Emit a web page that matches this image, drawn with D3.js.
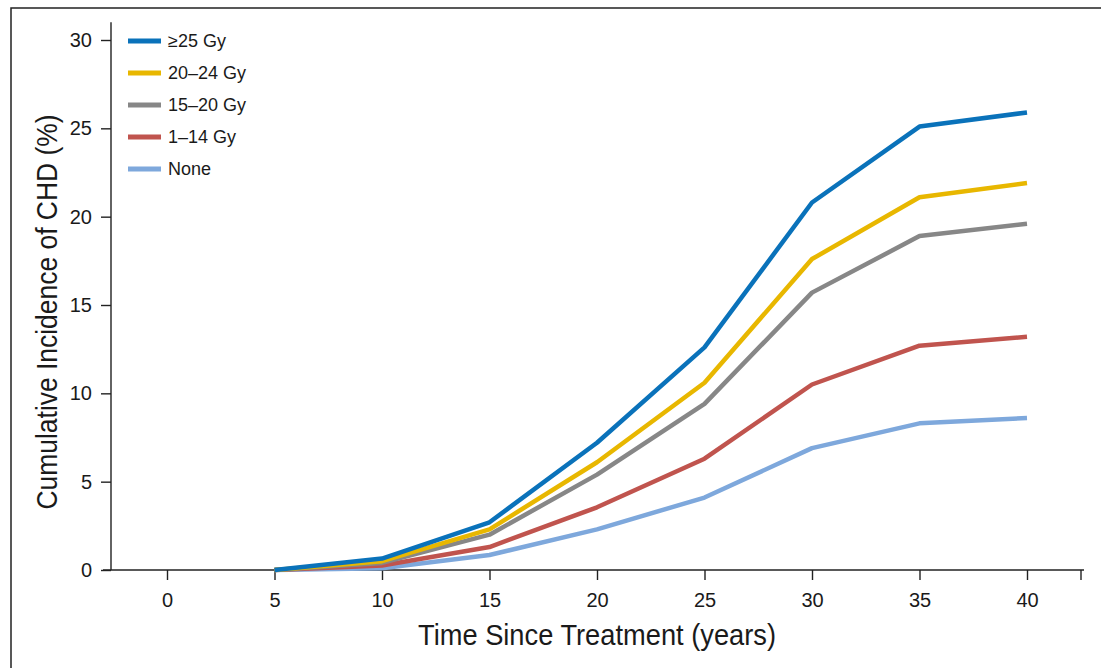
<!DOCTYPE html>
<html lang="en">
<head>
<meta charset="UTF-8">
<title>Cumulative Incidence of CHD</title>
<script src="https://cdn.jsdelivr.net/npm/d3@7"></script>
<style>
  body { margin: 0; background: #fff; }
  svg text { font-family: "Liberation Sans", Arial, sans-serif; fill: #1a1a1a; }
  .legend text { font-size: 18px; }
</style>
</head>
<body>
<div id="chart"></div>
<script>
// data
const years = [5, 10, 15, 20, 25, 30, 35, 40];
const seriesNames = ["\u226525 Gy", "20\u201324 Gy", "15\u201320 Gy", "1\u201314 Gy", "None"];
const seriesColors = ["#0a72ba", "#e8b700", "#878787", "#c0544e", "#7ea8dc"];
const dose25 = [0, 0.65, 2.7, 7.2, 12.6, 20.8, 25.1, 25.9];
const dose20 = [0, 0.5, 2.3, 6.1, 10.6, 17.6, 21.1, 21.9];
const dose15 = [0, 0.4, 2.0, 5.4, 9.4, 15.7, 18.9, 19.6];
const dose1 = [0, 0.25, 1.3, 3.55, 6.3, 10.5, 12.7, 13.2];
const doseNone = [0, 0.1, 0.85, 2.3, 4.1, 6.9, 8.3, 8.6];
const seriesValues = [dose25, dose20, dose15, dose1, doseNone];
const xTicks = [0, 5, 10, 15, 20, 25, 30, 35, 40];
const yTicks = [0, 5, 10, 15, 20, 25, 30];

const W = 1101, H = 668;
const svg = d3.select("#chart").append("svg")
  .attr("width", W).attr("height", H);

// outer frame (runs off the picture right and bottom)
svg.append("rect")
  .attr("x", 11).attr("y", 8)
  .attr("width", 1200).attr("height", 800)
  .attr("fill", "none").attr("stroke", "#222").attr("stroke-width", 1.5);

// scales
const x = d3.scaleLinear().domain([0, 40]).range([167, 1027]);
const y = d3.scaleLinear().domain([0, 30]).range([570, 40]);
const xMax = x.invert(1081);

// y axis
const yAxis = svg.append("g")
  .attr("transform", "translate(111,0)")
  .call(d3.axisLeft(y).tickValues(yTicks).tickSize(10).tickPadding(9));
yAxis.select(".domain").attr("d", `M0,${y(31)}V${y(0)}`);

// x axis
const xAxis = svg.append("g")
  .attr("transform", "translate(0,570)")
  .call(d3.axisBottom(x).tickValues(xTicks).tickSize(10).tickPadding(13));
xAxis.select(".domain").attr("d", `M103,0H${x(xMax) + 3}`);
xAxis.append("line")
  .attr("x1", x(xMax)).attr("x2", x(xMax))
  .attr("y1", 0).attr("y2", 10);

[yAxis, xAxis].forEach(g => {
  g.selectAll(".domain, line").attr("stroke", "#222").attr("stroke-width", 1.4);
  g.selectAll("text")
    .attr("font-family", null)
    .attr("font-size", 20)
    .attr("fill", "#1a1a1a");
});

// axis titles, slightly condensed like the original
svg.append("text")
  .attr("x", 597).attr("y", 645)
  .attr("text-anchor", "middle")
  .attr("font-size", 30)
  .attr("textLength", 358)
  .attr("lengthAdjust", "spacingAndGlyphs")
  .text("Time Since Treatment (years)");

svg.append("text")
  .attr("transform", "translate(57,312) rotate(-90)")
  .attr("text-anchor", "middle")
  .attr("font-size", 30)
  .attr("textLength", 395)
  .attr("lengthAdjust", "spacingAndGlyphs")
  .text("Cumulative Incidence of CHD (%)");

// lines (bottom series first so the top one overlays)
const line = d3.line()
  .x((d, i) => x(years[i]))
  .y(d => y(d));

for (let i = seriesValues.length - 1; i >= 0; i--) {
  svg.append("path")
    .datum(seriesValues[i])
    .attr("d", line)
    .attr("fill", "none")
    .attr("stroke", seriesColors[i])
    .attr("stroke-width", 4.5)
    .attr("stroke-linejoin", "round");
}

// legend
const legend = svg.append("g").attr("class", "legend");
seriesNames.forEach((name, i) => {
  const ly = 41 + i * 32;
  legend.append("line")
    .attr("x1", 128).attr("x2", 161)
    .attr("y1", ly).attr("y2", ly)
    .attr("stroke", seriesColors[i]).attr("stroke-width", 5);
  legend.append("text")
    .attr("x", 168).attr("y", ly + 6)
    .text(name);
});
</script>
</body>
</html>
